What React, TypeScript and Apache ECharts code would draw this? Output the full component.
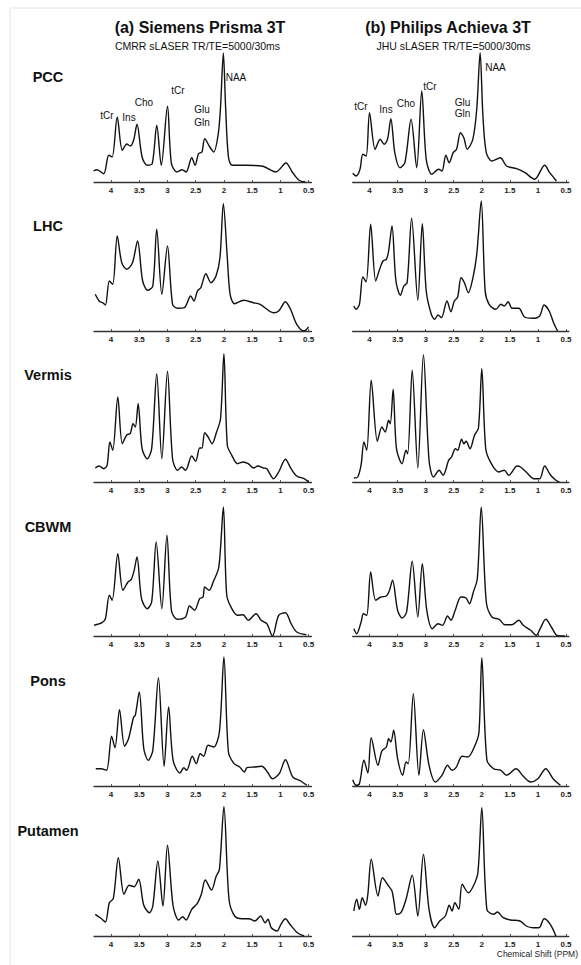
import React, { useEffect, useRef } from "react";
import * as echarts from "echarts";

type Pt = [number, number];

const REGIONS = ["PCC", "LHC", "Vermis", "CBWM", "Pons", "Putamen"];
const TICK_VALUES = [4, 3.5, 3, 2.5, 2, 1.5, 1, 0.5];
const TITLES = ["(a) Siemens Prisma 3T", "(b) Philips Achieva 3T"];
const SUBTITLES = ["CMRR sLASER TR/TE=5000/30ms", "JHU sLASER TR/TE=5000/30ms"];
const X_CAPTION = "Chemical Shift (PPM)";

// Spectra: [chemical shift (ppm), signal amplitude]
const pccSiemens: Pt[] = [[4.31,11],[4.25,12.3],[4.13,8.3],[4.04,26.7],[3.98,25],[3.89,65],[3.80,31.7],[3.72,38],[3.66,36],[3.60,41.7],[3.54,57.7],[3.45,25],[3.36,16.7],[3.27,18.3],[3.19,56.7],[3.11,16.7],[3.00,75.7],[2.93,18.3],[2.83,10],[2.74,12.3],[2.67,10],[2.57,24.3],[2.51,16.7],[2.45,28.3],[2.39,30],[2.34,43.3],[2.25,35],[2.18,30],[2.10,48.3],[2.06,75],[2.01,129],[1.97,75],[1.92,25],[1.85,16.7],[1.61,16.7],[1.31,15.7],[1.08,10],[0.90,19],[0.79,10],[0.67,1.7],[0.56,0]];
const pccPhilips: Pt[] = [[4.30,8.7],[4.24,6],[4.17,12.7],[4.12,27.7],[4.06,26],[4.00,69.3],[3.90,32.7],[3.81,42.7],[3.74,37.7],[3.68,42.7],[3.62,63.3],[3.55,29.3],[3.46,14.3],[3.37,19.3],[3.26,62.7],[3.16,14.3],[3.07,91],[2.99,22.7],[2.89,7.7],[2.77,12.7],[2.71,11],[2.64,26.7],[2.58,19.3],[2.51,29.3],[2.45,32.7],[2.38,49.3],[2.32,44.3],[2.26,32.7],[2.16,42.7],[2.09,72.7],[2.03,129.3],[1.98,66],[1.92,29.3],[1.82,21],[1.67,24.3],[1.56,16],[1.38,13.3],[1.23,9.3],[1.06,2.7],[0.88,16.7],[0.79,9.3],[0.67,1]];
const lhcSiemens: Pt[] = [[4.28,36.7],[4.21,30],[4.15,28.3],[4.10,26],[4.03,50],[3.97,46.7],[3.89,95],[3.81,68.3],[3.72,61.7],[3.62,68.3],[3.53,90],[3.44,50],[3.35,40.7],[3.26,45],[3.19,101.7],[3.10,36.7],[3.00,85],[2.91,26.7],[2.82,22.7],[2.70,23.3],[2.59,35],[2.53,30],[2.47,40],[2.41,43.3],[2.32,57.3],[2.23,48.3],[2.14,55],[2.07,73.3],[2.01,127.3],[1.94,73.3],[1.89,36.7],[1.81,27.3],[1.65,30.7],[1.48,28.3],[1.36,26.7],[1.12,18.3],[1.03,20],[0.91,29.3],[0.82,21.7],[0.71,6.7],[0.58,0],[0.50,4]];
const lhcPhilips: Pt[] = [[4.28,25],[4.24,21.7],[4.18,26.7],[4.12,54],[4.06,49.3],[3.98,106.7],[3.89,50],[3.82,61.7],[3.76,70],[3.70,71.7],[3.66,80],[3.60,105],[3.53,50],[3.45,35.7],[3.39,45],[3.33,48.3],[3.25,112.7],[3.14,30.7],[3.06,107.3],[2.99,40],[2.90,16.7],[2.84,11.7],[2.78,16],[2.72,13.3],[2.62,30],[2.55,19.3],[2.49,30],[2.43,34],[2.37,53.3],[2.31,48.3],[2.24,38.3],[2.16,52.7],[2.09,76.7],[2.01,130],[1.94,40],[1.87,26.7],[1.75,21.7],[1.66,26.7],[1.60,25],[1.53,29.3],[1.46,22.7],[1.34,22.7],[1.24,14],[1.09,12.7],[0.97,15],[0.89,26],[0.80,20],[0.71,6.7],[0.65,0]];
const vermisSiemens: Pt[] = [[4.28,14],[4.21,16],[4.13,13.3],[4.07,16.7],[4.02,40],[3.97,31.7],[3.88,85],[3.80,38.3],[3.72,47.3],[3.66,48.3],[3.61,58.3],[3.57,55],[3.52,78.3],[3.45,33.3],[3.36,23.3],[3.28,33.3],[3.19,108.3],[3.10,23.3],[3.00,110.7],[2.91,23.3],[2.82,11.7],[2.75,15],[2.68,11.7],[2.57,26],[2.50,20.7],[2.43,34],[2.39,34],[2.34,49.3],[2.28,45],[2.21,38.3],[2.13,50],[2.06,63.3],[2.00,128.3],[1.94,36.7],[1.86,26.7],[1.76,18.3],[1.66,20],[1.57,18.3],[1.47,14],[1.40,16],[1.30,14],[1.24,13.3],[1.12,3.3],[1.03,10],[0.91,22.7],[0.81,13.3],[0.71,6],[0.58,3.3],[0.50,0]];
const vermisPhilips: Pt[] = [[4.28,4],[4.21,5],[4.15,17.3],[4.10,40],[4.05,31.7],[3.97,101.7],[3.86,40.7],[3.78,55],[3.72,50],[3.66,61.7],[3.63,58.3],[3.58,92.7],[3.52,33.3],[3.42,18.3],[3.35,31.7],[3.32,28.3],[3.24,111.7],[3.14,14],[3.04,127.3],[2.94,21.7],[2.86,5],[2.76,11.7],[2.69,6.7],[2.59,21.7],[2.54,25],[2.47,33.3],[2.43,31.7],[2.36,42.7],[2.32,38.3],[2.28,40.7],[2.21,33.3],[2.13,46.7],[2.06,54],[2.00,113.3],[1.93,33.3],[1.83,18.3],[1.70,10],[1.60,11.7],[1.52,6.7],[1.37,16],[1.31,15],[1.21,10],[1.07,3.3],[0.97,3.3],[0.88,16],[0.78,7.3],[0.68,1.7],[0.62,0]];
const cbwmSiemens: Pt[] = [[4.30,10.7],[4.16,13.3],[4.10,17.3],[4.03,40.7],[3.98,35.7],[3.88,82.3],[3.79,45.7],[3.70,54],[3.64,56.7],[3.59,65.7],[3.54,79],[3.46,37.3],[3.36,27.3],[3.28,34],[3.20,94],[3.10,27.3],[3.01,100.7],[2.93,25.7],[2.83,16.7],[2.68,19],[2.61,30],[2.52,25.7],[2.43,37.3],[2.37,39],[2.34,49],[2.26,45.7],[2.19,54],[2.09,69],[2.01,129],[1.95,40.7],[1.86,27.3],[1.76,20.7],[1.66,21.3],[1.57,15.7],[1.43,22.3],[1.34,15.7],[1.24,12.3],[1.14,0],[1.03,20.7],[0.91,23.3],[0.81,12.3],[0.71,4],[0.54,1.3]];
const cbwmPhilips: Pt[] = [[4.28,7.3],[4.23,2.3],[4.15,14],[4.11,22.3],[4.05,20.7],[3.98,64],[3.89,35.7],[3.80,39],[3.70,40],[3.65,44.7],[3.59,55.7],[3.50,25.7],[3.42,18],[3.34,24],[3.24,74.7],[3.14,19],[3.06,72.3],[2.98,25.7],[2.88,7.3],[2.78,12.3],[2.70,10.7],[2.61,20],[2.55,15.7],[2.48,24.7],[2.37,39],[2.28,38],[2.22,32.3],[2.15,44],[2.08,57.3],[2.01,129],[1.92,34],[1.82,19],[1.69,16.7],[1.59,11.3],[1.46,11.3],[1.34,15.7],[1.26,10.7],[1.13,5.7],[1.03,0.7],[0.96,7.3],[0.86,16.7],[0.76,9],[0.66,0.7],[0.52,0]];
const ponsSiemens: Pt[] = [[4.27,17.3],[4.18,17.3],[4.08,15.7],[3.99,49.7],[3.93,38.3],[3.85,76.3],[3.76,39.7],[3.69,47.3],[3.60,69],[3.57,70.7],[3.50,94],[3.42,37.3],[3.34,25.7],[3.26,35.7],[3.16,108.3],[3.06,19.7],[2.98,79],[2.90,25.7],[2.78,13],[2.71,18.3],[2.66,15.7],[2.56,29.7],[2.49,22.3],[2.42,32.3],[2.36,29.7],[2.28,40.7],[2.18,39],[2.08,54],[2.00,129],[1.92,34],[1.82,22.3],[1.72,19],[1.64,14],[1.59,18.3],[1.46,19],[1.33,19.7],[1.23,14],[1.14,7.3],[1.02,12.3],[0.91,26.3],[0.78,9],[0.64,5],[0.53,0.7]];
const ponsPhilips: Pt[] = [[4.30,6.3],[4.24,0.7],[4.18,2.3],[4.10,25.7],[4.03,13],[3.97,48.3],[3.85,20.7],[3.78,35],[3.70,39],[3.66,47.3],[3.62,44],[3.57,55.7],[3.50,27.3],[3.41,10.7],[3.35,24],[3.31,22.3],[3.22,92.3],[3.12,10.7],[3.04,56.3],[2.94,20.7],[2.83,4],[2.71,10.7],[2.61,20.7],[2.53,15.7],[2.46,18.3],[2.35,29.7],[2.25,29],[2.12,40.7],[2.05,54],[2.00,128.3],[1.91,26.3],[1.79,17.3],[1.66,15.7],[1.56,10.7],[1.39,17.3],[1.26,9.7],[1.13,4],[1.00,7.3],[0.86,17.3],[0.73,7.3],[0.60,0.7]];
const putamenSiemens: Pt[] = [[4.28,21.7],[4.18,17.7],[4.10,14],[4.03,33.3],[3.96,37.3],[3.87,78.3],[3.77,41.7],[3.68,50.7],[3.59,49.3],[3.51,56.7],[3.42,30.7],[3.32,23.3],[3.26,30],[3.17,75],[3.08,30],[3.00,90.7],[2.90,30],[2.80,16],[2.73,19.3],[2.67,16],[2.57,26.7],[2.47,32.7],[2.40,41.7],[2.33,56],[2.22,46],[2.14,59.3],[2.08,66.7],[2.00,129.3],[1.91,36.7],[1.81,20],[1.68,17.3],[1.56,17.3],[1.45,15],[1.35,20],[1.27,13.3],[1.22,16.7],[1.16,8.3],[1.06,5],[0.99,11.7],[0.91,17.3],[0.83,11.7],[0.70,3.3],[0.58,0]];
const putamenPhilips: Pt[] = [[4.28,25],[4.23,36.7],[4.18,26.7],[4.13,38.3],[4.07,30.7],[4.03,41.7],[3.97,76.7],[3.85,40],[3.77,58.3],[3.67,50.7],[3.60,45],[3.56,32.7],[3.52,21.7],[3.44,23.3],[3.35,36.7],[3.24,60.7],[3.14,20],[3.04,81.7],[2.94,26.7],[2.84,8.3],[2.75,15],[2.65,20],[2.58,30.7],[2.53,25],[2.48,33.3],[2.41,26.7],[2.35,51.7],[2.24,43.3],[2.15,50],[2.07,63.3],[2.00,128.3],[1.91,26.7],[1.79,21.7],[1.72,24],[1.62,18.3],[1.49,16],[1.32,15],[1.21,10],[1.09,8.3],[0.98,8.3],[0.89,17.3],[0.78,11.7],[0.68,0]];

const SIEMENS = [pccSiemens, lhcSiemens, vermisSiemens, cbwmSiemens, ponsSiemens, putamenSiemens];
const PHILIPS = [pccPhilips, lhcPhilips, vermisPhilips, cbwmPhilips, ponsPhilips, putamenPhilips];

const PEAK_NAMES = ["tCr", "Ins", "Cho", "tCr", "Glu", "Gln", "NAA"];

// layout (pixels)
const ROW_AXIS_Y = [182, 331, 482, 636, 786, 936];
const ROW_LABEL_Y = [77, 226, 375, 527, 681, 831];
const COL_LEFT = [94.1, 352.7];
const COL_WIDTH = [217.3, 216.1];
const GRID_H = 135;
const PEAK_POS_LEFT: [number, number][] = [[107, 115], [129, 117], [144, 102], [178, 90], [202, 109], [202, 122], [236, 77]];
const PEAK_POS_RIGHT: [number, number][] = [[361, 106], [386, 109], [406, 103], [430, 86], [462.5, 102], [462.5, 113.5], [495.5, 67]];

const FONT = '"Liberation Sans", Arial, sans-serif';

export default function App() {
  const ref = useRef<HTMLDivElement>(null);
  useEffect(() => {
    if (!ref.current) return;
    const chart = echarts.init(ref.current, undefined, { renderer: "svg" });
    const grids: any[] = [];
    const xAxes: any[] = [];
    const yAxes: any[] = [];
    const series: any[] = [];
    REGIONS.forEach((_, r) => {
      [SIEMENS, PHILIPS].forEach((set, c) => {
        const i = grids.length;
        grids.push({ left: COL_LEFT[c], width: COL_WIDTH[c], top: ROW_AXIS_Y[r] - GRID_H, height: GRID_H });
        xAxes.push({
          gridIndex: i,
          type: "value",
          inverse: true,
          min: 0.45,
          max: 4.3,
          axisLine: { show: true, onZero: false, lineStyle: { color: "#333", width: 1.4 } },
          axisTick: { show: true, inside: true, length: 2, customValues: TICK_VALUES, lineStyle: { color: "#555" } },
          axisLabel: { customValues: TICK_VALUES, fontSize: 8, fontWeight: "bold", color: "#222", margin: 4, fontFamily: FONT },
          splitLine: { show: false },
        });
        yAxes.push({ gridIndex: i, type: "value", min: 0, max: GRID_H, show: false });
        series.push({
          type: "line",
          xAxisIndex: i,
          yAxisIndex: i,
          data: set[r],
          showSymbol: false,
          smooth: 0.3,
          silent: true,
          lineStyle: { color: "#111", width: 1.4 },
        });
      });
    });

    const graphic: any[] = [
      { type: "rect", shape: { x: 10, y: 8, width: 580, height: 970 }, style: { fill: "none", stroke: "#e4e4e4", lineWidth: 1 } },
      { type: "text", x: 200, y: 27, style: { text: TITLES[0], font: `bold 16px ${FONT}`, fill: "#111", textAlign: "center", textVerticalAlign: "middle" } },
      { type: "text", x: 448, y: 27, style: { text: TITLES[1], font: `bold 16px ${FONT}`, fill: "#111", textAlign: "center", textVerticalAlign: "middle" } },
      { type: "text", x: 197.5, y: 46, style: { text: SUBTITLES[0], font: `10.5px ${FONT}`, fill: "#111", textAlign: "center", textVerticalAlign: "middle" } },
      { type: "text", x: 453.5, y: 46, style: { text: SUBTITLES[1], font: `10.5px ${FONT}`, fill: "#111", textAlign: "center", textVerticalAlign: "middle" } },
      { type: "text", x: 578, y: 954, style: { text: X_CAPTION, font: `8.5px ${FONT}`, fill: "#222", textAlign: "right", textVerticalAlign: "middle" } },
    ];
    REGIONS.forEach((name, r) => {
      graphic.push({ type: "text", x: 48, y: ROW_LABEL_Y[r], style: { text: name, font: `bold 14.5px ${FONT}`, fill: "#111", textAlign: "center", textVerticalAlign: "middle" } });
    });
    PEAK_NAMES.forEach((name, k) => {
      graphic.push({ type: "text", x: PEAK_POS_LEFT[k][0], y: PEAK_POS_LEFT[k][1], style: { text: name, font: `10px ${FONT}`, fill: "#111", textAlign: "center", textVerticalAlign: "middle" } });
      graphic.push({ type: "text", x: PEAK_POS_RIGHT[k][0], y: PEAK_POS_RIGHT[k][1], style: { text: name, font: `10px ${FONT}`, fill: "#111", textAlign: "center", textVerticalAlign: "middle" } });
    });

    chart.setOption({
      animation: false,
      backgroundColor: "#fff",
      grid: grids,
      xAxis: xAxes,
      yAxis: yAxes,
      series,
      graphic,
    });
    return () => chart.dispose();
  }, []);
  return <div ref={ref} style={{ position: "absolute", left: 0, top: 0, width: 581, height: 965 }} />;
}
